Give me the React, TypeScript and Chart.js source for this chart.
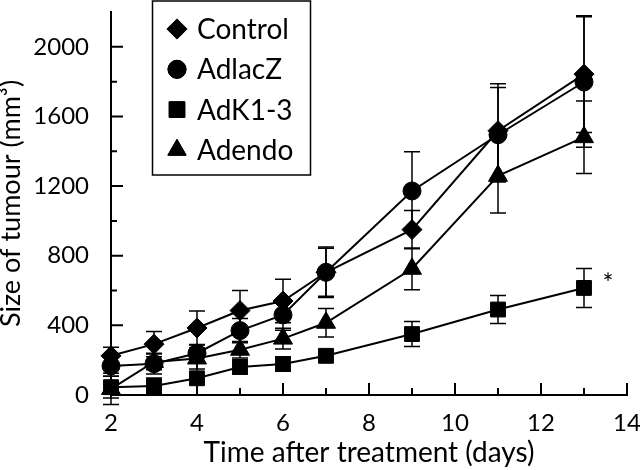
import React, { useEffect, useRef } from 'react';
import { Chart, registerables } from 'chart.js';
import { drawPoint } from 'chart.js/helpers';

Chart.register(...registerables);

// ---- data ----
const days = [2, 3, 4, 5, 6, 7, 9, 11, 13];
const seriesNames = ['Control', 'AdlacZ', 'AdK1-3', 'Adendo'];
const controlMean = [225, 292, 385, 485, 540, 705, 950, 1518, 1843];
const controlErr = [50, 73, 98, 115, 125, 138, 110, 270, 335];
const adlacZMean = [167, 180, 240, 370, 460, 705, 1172, 1495, 1798];
const adlacZErr = [60, 60, 50, 70, 88, 145, 225, 272, 375];
const adK13Mean = [45, 52, 96, 161, 178, 225, 350, 491, 615];
const adK13Err = [62, 45, 96, 40, 42, 35, 72, 80, 112];
const adendoMean = [35, 190, 210, 260, 324, 415, 725, 1259, 1481];
const adendoErr = [90, 45, 60, 48, 60, 82, 120, 213, 208];

const xMajorTicks = [2, 4, 6, 8, 10, 12, 14];
const xMinorTicks = [3, 5, 7, 9, 11, 13];
const yMajorTicks = [0, 400, 800, 1200, 1600, 2000];
const yMinorTicks = [200, 600, 1000, 1400, 1800];

const xTitle = 'Time after treatment (days)';
const yTitle = 'Size of tumour (mm³)';
const significanceMark = '*';
const significanceSeries = 2; // AdK1-3
const significanceIndex = 8;

const allMeans = [controlMean, adlacZMean, adK13Mean, adendoMean];
const allErrs = [controlErr, adlacZErr, adK13Err, adendoErr];
const pointStyles = ['rectRot', 'circle', 'rect', 'triangle'];
const pointRadii = [10, 9, 10.5, 11];
const legendRadii = [9.5, 9, 11, 10.5];

const FONT = 'Lato, "DejaVu Sans", sans-serif';

const errorBarsPlugin = {
  id: 'errorBars',
  beforeDatasetsDraw(chart: any) {
    const { ctx, scales } = chart;
    const x = scales.x;
    const y = scales.y;
    ctx.save();
    ctx.strokeStyle = '#000';
    ctx.lineWidth = 1.5;
    allMeans.forEach((means, di) => {
      const errs = allErrs[di];
      days.forEach((d, i) => {
        const px = x.getPixelForValue(d);
        const top = y.getPixelForValue(means[i] + errs[i]);
        const bot = y.getPixelForValue(means[i] - errs[i]);
        ctx.beginPath();
        ctx.moveTo(px, top);
        ctx.lineTo(px, bot);
        ctx.moveTo(px - 8, top);
        ctx.lineTo(px + 8, top);
        ctx.moveTo(px - 8, bot);
        ctx.lineTo(px + 8, bot);
        ctx.stroke();
      });
    });
    ctx.restore();
  },
};

const decorPlugin = {
  id: 'decor',
  afterDraw(chart: any) {
    const { ctx, scales, chartArea } = chart;
    const x = scales.x;
    const y = scales.y;
    ctx.save();
    ctx.strokeStyle = '#000';
    ctx.lineWidth = 2;
    // inward ticks on both axes
    ctx.beginPath();
    xMajorTicks.forEach((v) => {
      const px = x.getPixelForValue(v);
      ctx.moveTo(px, chartArea.bottom);
      ctx.lineTo(px, chartArea.bottom - 12);
    });
    xMinorTicks.forEach((v) => {
      const px = x.getPixelForValue(v);
      ctx.moveTo(px, chartArea.bottom);
      ctx.lineTo(px, chartArea.bottom - 7);
    });
    yMajorTicks.forEach((v) => {
      const py = y.getPixelForValue(v);
      ctx.moveTo(chartArea.left, py);
      ctx.lineTo(chartArea.left + 12, py);
    });
    yMinorTicks.forEach((v) => {
      const py = y.getPixelForValue(v);
      ctx.moveTo(chartArea.left, py);
      ctx.lineTo(chartArea.left + 6, py);
    });
    ctx.stroke();

    // legend box
    const boxLeft = 152;
    const boxRight = 310;
    const boxTop = 1;
    const boxBottom = 175;
    ctx.lineWidth = 1.5;
    ctx.strokeRect(boxLeft + 0.5, boxTop, boxRight - boxLeft, boxBottom - boxTop);
    ctx.fillStyle = '#000';
    ctx.font = `28px ${FONT}`;
    ctx.textAlign = 'left';
    ctx.textBaseline = 'alphabetic';
    seriesNames.forEach((name, i) => {
      const cy = 29 + i * 40.3;
      ctx.beginPath();
      drawPoint(
        ctx,
        { pointStyle: pointStyles[i], rotation: 0, radius: legendRadii[i], borderWidth: 1 } as any,
        177,
        cy
      );
      ctx.fill();
      ctx.lineWidth = 1;
      ctx.stroke();
      ctx.fillText(name, 197, cy + 10);
    });

    // significance mark
    const sx = x.getPixelForValue(days[significanceIndex]) + 24;
    const sy = y.getPixelForValue(allMeans[significanceSeries][significanceIndex]) - 3;
    ctx.font = `26px ${FONT}`;
    ctx.textAlign = 'center';
    ctx.textBaseline = 'middle';
    ctx.fillText(significanceMark, sx, sy);
    ctx.restore();
  },
};

export default function App() {
  const canvasRef = useRef<HTMLCanvasElement | null>(null);

  useEffect(() => {
    const canvas = canvasRef.current;
    if (!canvas) return;
    const datasets = seriesNames.map((name, i) => ({
      label: name,
      data: days.map((d, j) => ({ x: d, y: allMeans[i][j] })),
      borderColor: '#000',
      backgroundColor: '#000',
      borderWidth: 2,
      pointStyle: pointStyles[i],
      pointRadius: pointRadii[i],
      pointBackgroundColor: '#000',
      pointBorderColor: '#000',
      pointBorderWidth: 1,
      tension: 0,
      clip: false,
      showLine: true,
    }));

    const chart = new Chart(canvas, {
      type: 'line',
      data: { datasets },
      plugins: [errorBarsPlugin, decorPlugin],
      options: {
        responsive: false,
        animation: false,
        devicePixelRatio: 1,
        layout: { padding: { top: 0, right: 13, left: 0, bottom: 0 } },
        plugins: {
          legend: { display: false },
          tooltip: { enabled: false },
        },
        scales: {
          x: {
            type: 'linear',
            min: 2,
            max: 14,
            position: 'bottom',
            grid: { display: false },
            border: { display: true, color: '#000', width: 2 },
            ticks: {
              stepSize: 2,
              autoSkip: false,
              maxRotation: 0,
              padding: 6,
              color: '#000',
              font: { family: FONT, size: 24 },
              callback: (v: any) => String(v),
            },
            title: {
              display: true,
              text: xTitle,
              color: '#000',
              font: { family: FONT, size: 28 },
              padding: { top: 0, bottom: 0 },
            },
            afterFit: (s: any) => {
              s.height = 75;
              s.paddingLeft = 0;
              s.paddingRight = 0;
            },
          },
          y: {
            type: 'linear',
            min: 0,
            max: 2200,
            grid: { display: false },
            border: { display: true, color: '#000', width: 2 },
            ticks: {
              stepSize: 400,
              includeBounds: false,
              autoSkip: false,
              padding: 14,
              color: '#000',
              font: { family: FONT, size: 24 },
              callback: (v: any) => String(v),
            },
            title: {
              display: true,
              text: yTitle,
              color: '#000',
              font: { family: FONT, size: 27, lineHeight: 1 },
              padding: { top: -2, bottom: 0 },
            },
            afterFit: (s: any) => {
              s.width = 111;
              s.paddingTop = 0;
              s.paddingBottom = 0;
            },
          },
        },
      } as any,
    });
    return () => chart.destroy();
  }, []);

  return (
    <div style={{ position: 'fixed', left: 0, top: 0, width: 640, height: 470, background: '#fff' }}>
      <canvas ref={canvasRef} width={640} height={470} style={{ width: 640, height: 470 }} />
    </div>
  );
}
